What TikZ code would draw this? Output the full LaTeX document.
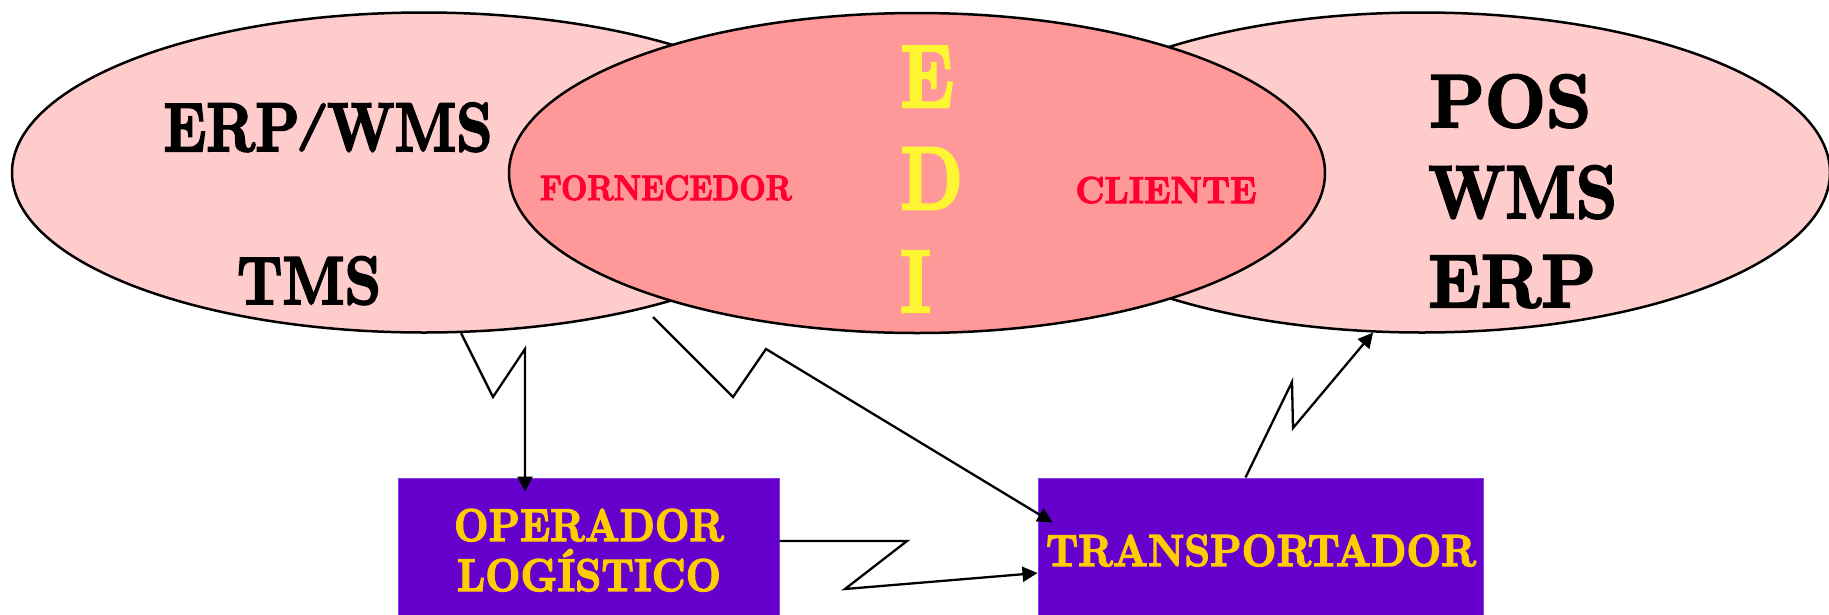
\documentclass[tikz,border=0pt]{standalone}
\usepackage{graphicx}
\usepackage{fontspec}
\newfontfamily\lmheavy{lmroman10-bold.otf}[FakeBold=3]
\usetikzlibrary{shapes.geometric,arrows.meta,calc}
\definecolor{pinklight}{RGB}{255,204,204}
\definecolor{pinkmid}{RGB}{255,153,153}
\definecolor{boxpurple}{RGB}{102,0,204}
\definecolor{boxedge}{RGB}{140,60,230}
\definecolor{gold}{RGB}{255,204,0}
\definecolor{ediyellow}{RGB}{255,246,51}
\definecolor{labelred}{RGB}{255,0,51}
\newcommand{\fitbx}[3]{\resizebox{#1pt}{\height}{\fontsize{#2pt}{#2pt}\lmheavy #3}}
\newcommand{\capslash}{\kern-0.06em\raisebox{0.17em}{\scalebox{1}[0.69]{/}}\kern-0.03em}
\tikzset{
  oval/.style={ellipse, draw=black, line width=2.5pt, minimum width=#1, minimum height=320pt, inner sep=0pt},
  actor/.style={rectangle, fill=boxpurple, draw=boxedge, line width=1pt, inner sep=0pt},
  lbl/.style={inner sep=0pt, anchor=base},
  lblw/.style={inner sep=0pt, anchor=base west},
  link/.style={draw=black, line width=2.3pt, line join=miter},
  tip/.style={-{Triangle[length=15pt,width=15pt]}}
}
\begin{document}
\begin{tikzpicture}[x=1pt,y=-1pt]
\useasboundingbox (0,0) rectangle (1829,614);
% ellipses
\node[oval=824pt, fill=pinklight] (L) at (424,172.5) {};
\node[oval=816pt, fill=pinklight] (R) at (1422,172.5) {};
\node[oval=816pt, fill=pinkmid] (M) at (917,173) {};
% boxes
\node[actor, minimum width=381pt, minimum height=144pt] (O) at (588.5,550) {};
\node[actor, minimum width=445pt, minimum height=144pt] (T) at (1260.5,550) {};
% left texts
\node[lbl] (erpwms) at (328,151) {\fitbx{329}{69}{ERP\capslash WMS}};
\node[lbl] (tms) at (309,304) {\fitbx{144}{68}{TMS}};
% right texts
\node[lblw] (pos) at (1429,127) {\fitbx{162}{75}{POS}};
\node[lblw] (wms) at (1428,218) {\fitbx{189}{75}{WMS}};
\node[lblw] (erp) at (1428,307) {\fitbx{168}{75}{ERP}};
% middle texts
\node[lbl, text=labelred] (forn) at (666,200) {\fitbx{252}{35.5}{FORNECEDOR}};
\node[lbl, text=labelred] (cli) at (1166,203) {\fitbx{181}{37.5}{CLIENTE}};
\node[lblw, text=ediyellow] (e) at (900,107) {\scalebox{0.8}[1]{\fontsize{89pt}{89pt}\lmheavy E}};
\node[lblw, text=ediyellow] (d) at (900,209) {\scalebox{0.8}[1]{\fontsize{89pt}{89pt}\lmheavy D}};
\node[lblw, text=ediyellow] (i) at (900,312) {\scalebox{0.8}[1]{\fontsize{89pt}{89pt}\lmheavy I}};
% box texts
\node[lbl, text=gold] (op) at (589,541) {\fitbx{270}{46}{OPERADOR}};
\node[lbl, text=gold] (log) at (589,591) {\fitbx{264}{46}{LOGÍSTICO}};
\node[lbl, text=gold] (tr) at (1261,566) {\fitbx{430}{45}{TRANSPORTADOR}};
% connectors
\coordinate (bstart) at (653,317);
\draw[link, tip] (L.-77) -- (493,397) -- (525,349) -- ([xshift=-63.5pt,yshift=-14pt]O.north);
\draw[link, tip] (bstart) -- (733,397) -- (766,349) -- ([xshift=15pt,yshift=-45pt]T.north west);
\draw[link, tip] ([yshift=9pt]O.east) -- (907,541) -- (845,589) -- ([yshift=-23pt]T.west);
\draw[link, tip] ([xshift=-15pt]T.north) -- (1292,382) -- (1293,428) -- (R.-107);
\end{tikzpicture}
\end{document}
